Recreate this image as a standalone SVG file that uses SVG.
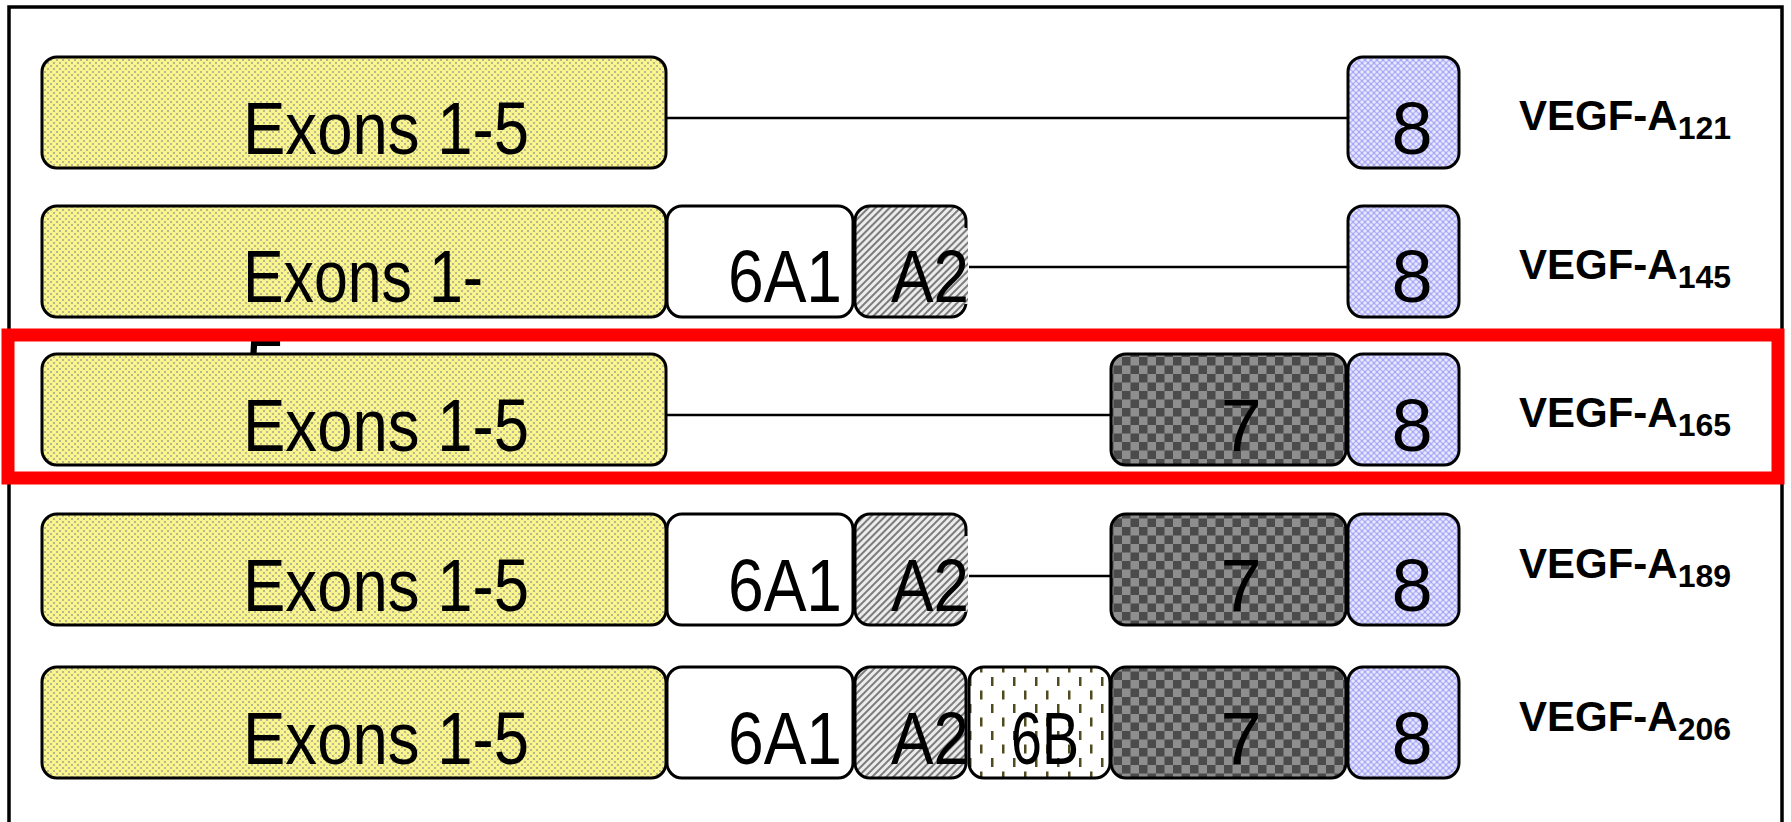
<svg xmlns="http://www.w3.org/2000/svg" width="1791" height="822" viewBox="0 0 1791 822">
<style>
.box{stroke:#000;stroke-width:3}
.big{font-family:"Liberation Sans",Arial,sans-serif;font-size:74px;fill:#000}
.lab{font-family:"Liberation Sans",Arial,sans-serif;font-size:42px;font-weight:bold;fill:#000}
.sub{font-size:32px}
.conn{stroke:#000;stroke-width:2.5;fill:none}
</style>
<defs>
<pattern id="pY" width="6" height="6" patternUnits="userSpaceOnUse">
<rect width="6" height="6" fill="#adab8e"/>
<circle cx="0" cy="0" r="2.2" fill="#fbf78e"/><circle cx="6" cy="0" r="2.2" fill="#fbf78e"/>
<circle cx="0" cy="6" r="2.2" fill="#fbf78e"/><circle cx="6" cy="6" r="2.2" fill="#fbf78e"/>
<circle cx="3" cy="3" r="2.2" fill="#fbf78e"/>
</pattern>
<pattern id="pB" width="6" height="6" patternUnits="userSpaceOnUse">
<rect width="6" height="6" fill="#a8a8f6"/>
<circle cx="0" cy="0" r="1.8" fill="#e8e8ff"/><circle cx="6" cy="0" r="1.8" fill="#e8e8ff"/>
<circle cx="0" cy="6" r="1.8" fill="#e8e8ff"/><circle cx="6" cy="6" r="1.8" fill="#e8e8ff"/>
<circle cx="3" cy="3" r="1.8" fill="#e8e8ff"/>
</pattern>
<pattern id="pH" width="5" height="5" patternUnits="userSpaceOnUse" patternTransform="rotate(-45)">
<rect width="5" height="5" fill="#ececec"/>
<rect width="5" height="2" fill="#7c7c7c"/>
</pattern>
<pattern id="pC" width="17" height="17" patternUnits="userSpaceOnUse">
<rect width="17" height="17" fill="#8e8e8e"/>
<rect width="8.5" height="8.5" fill="#4b4b4b"/>
<rect x="8.5" y="8.5" width="8.5" height="8.5" fill="#4b4b4b"/>
</pattern>
<pattern id="pD" width="22" height="27" patternUnits="userSpaceOnUse">
<rect width="22" height="27" fill="#ffffff"/>
<rect x="1" y="2" width="2.5" height="9" fill="#4f4b1e"/>
<rect x="12" y="15.5" width="2.5" height="9" fill="#4f4b1e"/>
</pattern>
</defs>

<rect id="frame" x="9" y="7" width="1773" height="900" fill="#fff" stroke="#000" stroke-width="3.5"/>

<g id="connectors">
<line class="conn" x1="666" y1="118" x2="1348" y2="118"/>
<line class="conn" x1="969" y1="267" x2="1348" y2="267"/>
<line class="conn" x1="666" y1="415" x2="1111" y2="415"/>
<line class="conn" x1="969" y1="576" x2="1111" y2="576"/>
</g>

<g id="row121">
<g id="r1-exon"><rect class="box" x="42" y="57" width="624" height="111" rx="15" fill="url(#pY)"/><text class="big" x="243" y="154" textLength="286" lengthAdjust="spacingAndGlyphs">Exons 1-5</text></g>
<g id="r1-e8"><rect class="box" x="1348" y="57" width="111" height="111" rx="15" fill="url(#pB)"/><text class="big" x="1412" y="154" text-anchor="middle">8</text></g>
<text id="r1-label" class="lab" x="1519" y="130">VEGF-A<tspan class="sub" dy="9">121</tspan></text>
</g>

<g id="row145">
<g id="r2-exon"><rect class="box" x="42" y="206" width="624" height="111" rx="15" fill="url(#pY)"/><text class="big" x="243" y="302" textLength="240" lengthAdjust="spacingAndGlyphs">Exons 1-</text><text class="big" x="245" y="392">5</text></g>
<g id="r2-e6a1"><rect class="box" x="667" y="206" width="186" height="111" rx="15" fill="#fff"/><text class="big" x="728" y="302" textLength="114" lengthAdjust="spacingAndGlyphs">6A1</text></g>
<g id="r2-a2"><rect class="box" x="855" y="206" width="111" height="111" rx="15" fill="url(#pH)"/><rect x="958" y="228" width="10" height="76" fill="url(#pH)"/><text class="big" x="891" y="302" textLength="78" lengthAdjust="spacingAndGlyphs">A2</text></g>
<g id="r2-e8"><rect class="box" x="1348" y="206" width="111" height="111" rx="15" fill="url(#pB)"/><text class="big" x="1412" y="302" text-anchor="middle">8</text></g>
<text id="r2-label" class="lab" x="1519" y="279">VEGF-A<tspan class="sub" dy="9">145</tspan></text>
</g>

<g id="row165">
<g id="r3-exon"><rect class="box" x="42" y="354" width="624" height="111" rx="15" fill="url(#pY)"/><text class="big" x="243" y="451" textLength="286" lengthAdjust="spacingAndGlyphs">Exons 1-5</text></g>
<g id="r3-e7"><rect class="box" x="1111" y="354" width="235" height="111" rx="15" fill="url(#pC)"/><text class="big" x="1241" y="451" text-anchor="middle">7</text></g>
<g id="r3-e8"><rect class="box" x="1348" y="354" width="111" height="111" rx="15" fill="url(#pB)"/><text class="big" x="1412" y="451" text-anchor="middle">8</text></g>
<text id="r3-label" class="lab" x="1519" y="427">VEGF-A<tspan class="sub" dy="9">165</tspan></text>
</g>

<g id="row189">
<g id="r4-exon"><rect class="box" x="42" y="514" width="624" height="111" rx="15" fill="url(#pY)"/><text class="big" x="243" y="611" textLength="286" lengthAdjust="spacingAndGlyphs">Exons 1-5</text></g>
<g id="r4-e6a1"><rect class="box" x="667" y="514" width="186" height="111" rx="15" fill="#fff"/><text class="big" x="728" y="611" textLength="114" lengthAdjust="spacingAndGlyphs">6A1</text></g>
<g id="r4-a2"><rect class="box" x="855" y="514" width="111" height="111" rx="15" fill="url(#pH)"/><rect x="958" y="536" width="10" height="76" fill="url(#pH)"/><text class="big" x="891" y="611" textLength="78" lengthAdjust="spacingAndGlyphs">A2</text></g>
<g id="r4-e7"><rect class="box" x="1111" y="514" width="235" height="111" rx="15" fill="url(#pC)"/><text class="big" x="1241" y="611" text-anchor="middle">7</text></g>
<g id="r4-e8"><rect class="box" x="1348" y="514" width="111" height="111" rx="15" fill="url(#pB)"/><text class="big" x="1412" y="611" text-anchor="middle">8</text></g>
<text id="r4-label" class="lab" x="1519" y="578">VEGF-A<tspan class="sub" dy="9">189</tspan></text>
</g>

<g id="row206">
<g id="r5-exon"><rect class="box" x="42" y="667" width="624" height="111" rx="15" fill="url(#pY)"/><text class="big" x="243" y="764" textLength="286" lengthAdjust="spacingAndGlyphs">Exons 1-5</text></g>
<g id="r5-e6a1"><rect class="box" x="667" y="667" width="186" height="111" rx="15" fill="#fff"/><text class="big" x="728" y="764" textLength="114" lengthAdjust="spacingAndGlyphs">6A1</text></g>
<g id="r5-a2"><rect class="box" x="855" y="667" width="111" height="111" rx="15" fill="url(#pH)"/><text class="big" x="891" y="764" textLength="78" lengthAdjust="spacingAndGlyphs">A2</text></g>
<g id="r5-e6b"><rect class="box" x="969" y="667" width="141" height="111" rx="15" fill="url(#pD)"/><text class="big" x="1011" y="764" textLength="68" lengthAdjust="spacingAndGlyphs">6B</text></g>
<g id="r5-e7"><rect class="box" x="1111" y="667" width="235" height="111" rx="15" fill="url(#pC)"/><text class="big" x="1241" y="764" text-anchor="middle">7</text></g>
<g id="r5-e8"><rect class="box" x="1348" y="667" width="111" height="111" rx="15" fill="url(#pB)"/><text class="big" x="1412" y="764" text-anchor="middle">8</text></g>
<text id="r5-label" class="lab" x="1519" y="731">VEGF-A<tspan class="sub" dy="9">206</tspan></text>
</g>

<rect id="highlight" x="8" y="335" width="1770" height="143" fill="none" stroke="#ff0000" stroke-width="13"/>
</svg>
